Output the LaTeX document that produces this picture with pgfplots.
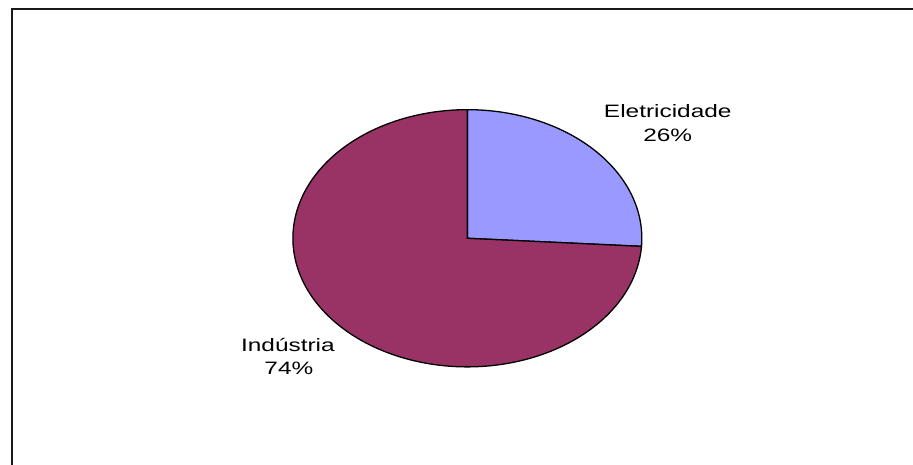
\documentclass[border=0pt]{standalone}
\usepackage{pgfplots}
\usepackage{pgfplotstable}
\pgfplotsset{compat=1.18}
\usepackage{fontspec}
\setmainfont{Liberation Sans}
\definecolor{elet}{HTML}{9999FF}
\definecolor{indu}{HTML}{993366}

\pgfplotstableread{
label value
Eletricidade 26
Industria 74
}\piedata

\begin{document}
\pgfplotstablegetelem{0}{value}\of\piedata
\pgfmathsetmacro{\angA}{90-3.6*\pgfplotsretval}
\begin{tikzpicture}
\useasboundingbox (0,0) rectangle (913pt,466pt);
\begin{axis}[
  width=913pt, height=466pt, scale only axis,
  xmin=0, xmax=913, ymin=0, ymax=466,
  hide axis, clip=false,
  anchor=south west, at={(0,0)},
]
% frame (top and left edges visible)
\draw[line width=2pt, color=black!90] (axis cs:9.5,0) -- (axis cs:9.5,456.5) -- (axis cs:913,456.5);
% slices
\addplot[fill=elet, draw=black, line width=1.3pt, samples=120, domain=90:\angA, variable=\t]
  ({466+175*cos(t)}, {227+129*sin(t)}) -- (axis cs:466,227) -- cycle;
\addplot[fill=indu, draw=black, line width=1.3pt, samples=240, domain=\angA:-270, variable=\t]
  ({466+175*cos(t)}, {227+129*sin(t)}) -- (axis cs:466,227) -- cycle;
% labels
\node[anchor=base, font=\fontsize{18}{21}\selectfont, inner sep=0pt] at (axis cs:667,348) {\scalebox{1.36}[1]{Eletricidade}};
\node[anchor=base, font=\fontsize{18}{21}\selectfont, inner sep=0pt] at (axis cs:667,324) {\scalebox{1.36}[1]{26\%}};
\node[anchor=base, font=\fontsize{18}{21}\selectfont, inner sep=0pt] at (axis cs:286,113) {\scalebox{1.36}[1]{Indústria}};
\node[anchor=base, font=\fontsize{18}{21}\selectfont, inner sep=0pt] at (axis cs:287,90) {\scalebox{1.36}[1]{74\%}};
\end{axis}
\end{tikzpicture}
\end{document}
